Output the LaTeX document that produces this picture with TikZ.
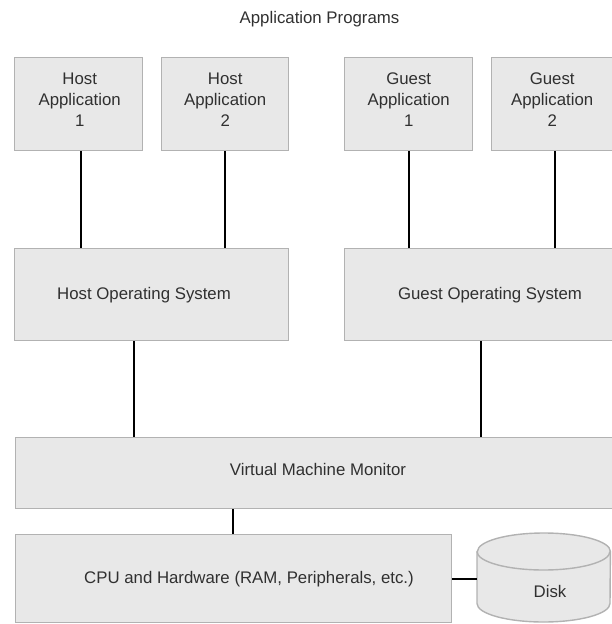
\documentclass[tikz,border=0pt]{standalone}
\usepackage{fontspec}
\setmainfont{Liberation Sans}
\definecolor{boxfill}{HTML}{E8E8E8}
\definecolor{boxline}{HTML}{B2B2B2}
\definecolor{textcol}{HTML}{303030}
\begin{document}
\begin{tikzpicture}[x=1pt,y=1pt,
  box/.style={draw=boxline, fill=boxfill, line width=1.4pt, inner sep=0pt, anchor=north west},
  ghost/.style={inner sep=0pt, anchor=north west},
  txt/.style={text=textcol, font=\fontsize{16.8}{21}\selectfont, align=center, inner sep=0pt},
  link/.style={draw=black, line width=2pt}]
\useasboundingbox (0,0) rectangle (612,-624);
\clip (0,0) rectangle (612,-624);

% layer boxes
\node[box, minimum width=128, minimum height=93] (ha1) at (14,-57) {};
\node[box, minimum width=127, minimum height=93] (ha2) at (161,-57) {};
\node[box, minimum width=128, minimum height=93] (ga1) at (344,-57) {};
\node[box, minimum width=135, minimum height=93] (ga2) at (491,-57) {};
\node[box, minimum width=274, minimum height=92] (hos) at (14,-248) {};
\node[box, minimum width=280, minimum height=92] (gos) at (344,-248) {};
\node[box, minimum width=610, minimum height=71] (vmm) at (15,-437) {};
\node[box, minimum width=436, minimum height=88] (cpu) at (15,-534) {};

% disk cylinder
\node[ghost, minimum width=133, minimum height=89] (disk) at (477,-533) {};
\filldraw[draw=boxline, fill=boxfill, line width=1.4pt]
  (disk.west |- 0,-551.5) -- (disk.west |- 0,-603.5)
  arc[start angle=180, end angle=360, x radius=66.5pt, y radius=18.5pt]
  -- (disk.east |- 0,-551.5)
  arc[start angle=0, end angle=180, x radius=66.5pt, y radius=18.5pt] -- cycle;
\draw[draw=boxline, line width=1.4pt] (disk.west |- 0,-551.5)
  arc[start angle=180, end angle=360, x radius=66.5pt, y radius=18.5pt];

% labels
\node[txt, anchor=base] (title) at (319.5,-23) {Application Programs};
\node[txt] (tha1) at ([xshift=1]ha1.center |- 0,-100) {Host\\Application\\1};
\node[txt] (tha2) at (ha2.center |- 0,-100) {Host\\Application\\2};
\node[txt] (tga1) at (ga1.center |- 0,-100) {Guest\\Application\\1};
\node[txt] (tga2) at ([xshift=-7]ga2.center |- 0,-100) {Guest\\Application\\2};
\node[txt, anchor=base] (thos) at (144,-299) {Host Operating System};
\node[txt, anchor=base] (tgos) at (490,-299) {Guest Operating System};
\node[txt, anchor=base] (tvmm) at (318,-475) {Virtual Machine Monitor};
\node[txt, anchor=base] (tcpu) at (249,-583) {CPU and Hardware (RAM, Peripherals, etc.)};
\node[txt, anchor=base] (tdisk) at (550,-597) {Disk};

% connectors
\draw[link] ([xshift=2]ha1.south) -- ([xshift=2]ha1.south |- hos.north);
\draw[link] (ha2.south) -- (ha2.south |- hos.north);
\draw[link] (ga1.south) -- (ga1.south |- gos.north);
\draw[link] ([xshift=-4.5]ga2.south) -- ([xshift=-4.5]ga2.south |- gos.north);
\draw[link] ([xshift=-17.5]hos.south) -- ([xshift=-17.5]hos.south |- vmm.north);
\draw[link] ([xshift=-4]gos.south) -- ([xshift=-4]gos.south |- vmm.north);
\draw[link] ([xshift=-1]vmm.south -| cpu.north) -- ([xshift=-1]cpu.north);
\draw[link] (cpu.east) -- (cpu.east -| disk.west);
\end{tikzpicture}
\end{document}
